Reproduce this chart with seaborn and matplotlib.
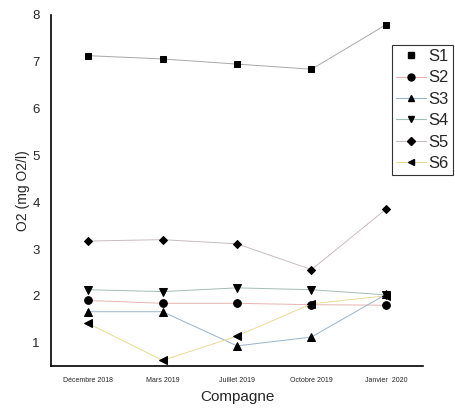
import matplotlib
matplotlib.use("Agg")
import matplotlib.pyplot as plt
from matplotlib.lines import Line2D
import seaborn as sns
import pandas as pd

campagnes = ["Décembre 2018", "Mars 2019", "Juillet 2019", "Octobre 2019", "Janvier  2020"]
stations = ["S1", "S2", "S3", "S4", "S5", "S6"]
s1 = [7.13, 7.06, 6.95, 6.84, 7.79]
s2 = [1.90, 1.84, 1.84, 1.81, 1.80]
s3 = [1.66, 1.66, 0.93, 1.12, 2.03]
s4 = [2.13, 2.09, 2.17, 2.13, 2.02]
s5 = [3.17, 3.20, 3.11, 2.56, 3.85]
s6 = [1.41, 0.62, 1.14, 1.83, 2.00]

values = {"S1": s1, "S2": s2, "S3": s3, "S4": s4, "S5": s5, "S6": s6}
rows = []
for st in stations:
    for i, c in enumerate(campagnes):
        rows.append({"Campagne": i, "O2": values[st][i], "Station": st})
df = pd.DataFrame(rows)

line_colors = {"S1": "#a8a8a8", "S2": "#e6b4b4", "S3": "#9ab2c8",
               "S4": "#a4bcb8", "S5": "#c8bcc0", "S6": "#e8da98"}
markers = {"S1": "s", "S2": "o", "S3": "^", "S4": "v", "S5": "D", "S6": "<"}
msizes = {"S1": 5.0, "S2": 5.5, "S3": 5.5, "S4": 5.5, "S5": 4.5, "S6": 5.5}

sns.set_style("white")
plt.rcParams["font.family"] = ["Liberation Sans", "DejaVu Sans"]

fig = plt.figure(figsize=(4.55, 4.15), dpi=100)
ax = fig.add_axes([0.112, 0.118, 0.818, 0.846])

sns.lineplot(data=df, x="Campagne", y="O2", hue="Station", style="Station",
             palette=line_colors, markers=markers, dashes=False, linewidth=0.7,
             markersize=5.5, markerfacecolor="black", markeredgecolor="black",
             legend=False, ax=ax)
for line, st in zip(ax.lines, stations):
    line.set_markersize(msizes[st])

ax.set_xlim(-0.5, 4.5)
ax.set_ylim(0.5, 8.0)
ax.set_xticks(range(len(campagnes)))
ax.set_xticklabels(campagnes, fontsize=5)
ax.set_yticks([1, 2, 3, 4, 5, 6, 7, 8])
ax.tick_params(axis="y", labelsize=9.5, length=0, pad=8)
ax.tick_params(axis="x", length=0, pad=8)
ax.set_xlabel("Compagne", fontsize=11)
ax.set_ylabel("O2 (mg O2/l)", fontsize=10, labelpad=2)
for side in ["top", "right"]:
    ax.spines[side].set_visible(False)
for side in ["left", "bottom"]:
    ax.spines[side].set_color("black")
    ax.spines[side].set_linewidth(1.2)

handles = []
for st in stations:
    lc = "none" if st == "S1" else line_colors[st]
    handles.append(Line2D([], [], color=lc, linewidth=0.8, marker=markers[st],
                          markersize=msizes[st] - 0.5, markerfacecolor="black",
                          markeredgecolor="black"))
leg = fig.legend(handles, stations, loc="upper left",
                 bbox_to_anchor=(392 / 455, 1 - 45 / 415), fontsize=12,
                 frameon=True, fancybox=False, handlelength=1.8, handletextpad=0.15,
                 borderpad=0.25, borderaxespad=0, labelspacing=0.38)
leg.get_frame().set_edgecolor("black")
leg.get_frame().set_linewidth(0.8)

fig.savefig("out.png", dpi=100)
